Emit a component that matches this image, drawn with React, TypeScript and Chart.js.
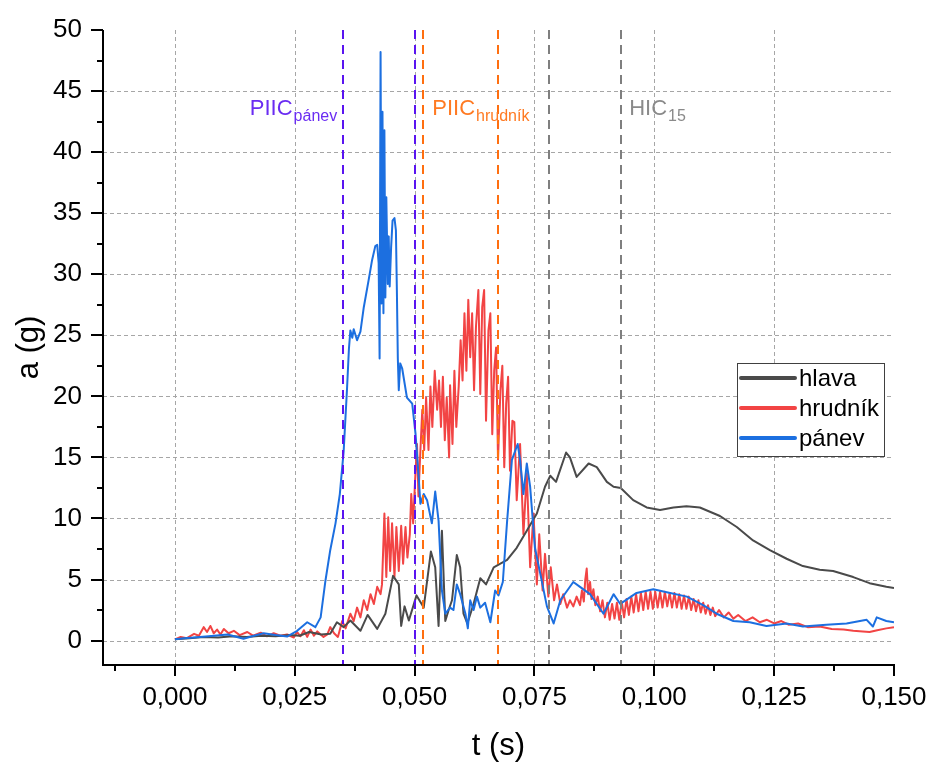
import React, { useEffect, useRef } from 'react';
import { Chart, registerables } from 'chart.js';
Chart.register(...registerables);

// ---------- data (t in s, a in g) ----------
const hlava: [number, number][] = [
  [0.0, 0.1], [0.003, 0.2], [0.006, 0.3], [0.009, 0.25], [0.012, 0.35], [0.015, 0.3], [0.018, 0.4],
  [0.021, 0.35], [0.024, 0.45], [0.026, 0.4], [0.028, 0.7], [0.0305, 0.5], [0.0324, 0.55], [0.0338, 1.5],
  [0.0352, 1.1], [0.0366, 1.64], [0.0387, 0.8], [0.0402, 2.1], [0.0422, 0.96], [0.0439, 2.2], [0.0455, 5.3],
  [0.0467, 4.6], [0.0472, 1.2], [0.0479, 2.8], [0.0488, 1.64], [0.0504, 3.7], [0.0519, 2.7], [0.0534, 7.3],
  [0.0543, 6.0], [0.055, 1.2], [0.0557, 9.0], [0.0564, 1.6], [0.0571, 2.5], [0.0578, 3.3], [0.0588, 7.0],
  [0.0595, 6.0], [0.0602, 2.2], [0.061, 1.4], [0.0623, 3.0], [0.0637, 5.1], [0.0649, 4.6], [0.0665, 6.0],
  [0.0679, 6.3], [0.0693, 6.6], [0.0713, 7.6], [0.0734, 9.0], [0.0755, 10.4], [0.0772, 12.6], [0.0783, 13.5],
  [0.0795, 13.0], [0.0816, 15.4], [0.0824, 15.0], [0.0838, 13.4], [0.0863, 14.5], [0.088, 14.2], [0.0901, 13.0],
  [0.0915, 12.6], [0.093, 12.5], [0.0956, 11.5], [0.0984, 10.9], [0.1012, 10.7], [0.104, 10.9], [0.1067, 11.0],
  [0.1095, 10.9], [0.1137, 10.2], [0.1172, 9.3], [0.1206, 8.2], [0.1241, 7.4], [0.1276, 6.7], [0.131, 6.1],
  [0.1345, 5.8], [0.1373, 5.7], [0.1415, 5.2], [0.1449, 4.7], [0.1484, 4.4], [0.15, 4.3],
];

const hrudnik: [number, number][] = [
  [0.0, 0.1], [0.0012, 0.3], [0.0025, 0.2], [0.004, 0.55], [0.005, 0.4], [0.006, 1.1], [0.0067, 0.7],
  [0.0074, 1.2], [0.0081, 0.6], [0.0088, 0.9], [0.0095, 0.5], [0.0102, 0.95], [0.0112, 0.6], [0.0123, 0.8],
  [0.0135, 0.45], [0.0151, 0.7], [0.0163, 0.4], [0.0179, 0.65], [0.0192, 0.35], [0.0206, 0.6], [0.022, 0.4],
  [0.0234, 0.5], [0.0248, 0.25], [0.0255, 0.7], [0.0262, 0.35], [0.0269, 0.85], [0.0276, 0.3], [0.0283, 0.9],
  [0.029, 0.4], [0.0297, 0.75], [0.031, 0.3], [0.0318, 0.5], [0.0324, 1.1], [0.0332, 0.6], [0.034, 0.3],
  [0.0349, 1.6], [0.0356, 1.0], [0.0366, 2.2], [0.0373, 1.6], [0.038, 2.7], [0.0387, 1.9], [0.0394, 3.3],
  [0.0401, 2.5], [0.0408, 3.8], [0.0415, 3.0], [0.0422, 4.4], [0.0429, 3.8], [0.0432, 4.6], [0.0437, 10.4],
  [0.0441, 5.2], [0.0445, 10.1], [0.0449, 5.7], [0.0453, 9.6], [0.0458, 5.2], [0.0462, 9.3], [0.0467, 5.7],
  [0.0472, 9.4], [0.0476, 6.3], [0.0481, 9.3], [0.0485, 6.8], [0.049, 8.7], [0.0493, 12.0], [0.0497, 9.6],
  [0.0501, 13.1], [0.0505, 16.1], [0.0508, 11.8], [0.0512, 15.5], [0.0516, 18.9], [0.052, 15.6], [0.0524, 19.9],
  [0.0529, 15.6], [0.0533, 20.8], [0.0537, 17.5], [0.0542, 22.1], [0.0547, 18.9], [0.0551, 21.3], [0.0555, 17.5],
  [0.0559, 21.6], [0.0563, 16.4], [0.0567, 19.9], [0.0572, 15.0], [0.0574, 20.9], [0.0579, 16.1], [0.0583, 22.1],
  [0.0587, 17.5], [0.0592, 20.8], [0.0596, 24.6], [0.06, 21.3], [0.0604, 26.8], [0.0608, 22.1], [0.0612, 27.9],
  [0.0616, 23.2], [0.062, 26.8], [0.0624, 20.5], [0.0628, 25.7], [0.0633, 28.7], [0.0637, 20.2], [0.0641, 27.3],
  [0.0645, 28.7], [0.0649, 18.0], [0.0654, 25.4], [0.0658, 26.8], [0.0662, 16.9], [0.0666, 22.1], [0.067, 24.0],
  [0.0674, 14.8], [0.0679, 20.5], [0.0683, 22.5], [0.0687, 14.2], [0.0691, 19.4], [0.0695, 21.6], [0.0699, 13.9],
  [0.0704, 18.0], [0.0708, 17.9], [0.0713, 11.5], [0.072, 16.1], [0.0727, 8.7], [0.0734, 13.7], [0.0741, 6.0],
  [0.0748, 10.4], [0.0755, 4.6], [0.076, 8.7], [0.0767, 4.1], [0.0772, 7.1], [0.0779, 3.6], [0.0784, 6.0],
  [0.0791, 3.3], [0.0797, 4.6], [0.0804, 3.0], [0.081, 3.8], [0.0818, 2.7], [0.0824, 3.3], [0.0831, 2.8],
  [0.0838, 3.6], [0.0845, 2.9], [0.0849, 4.1], [0.0853, 3.2], [0.0856, 5.0], [0.0859, 5.9], [0.0862, 3.8],
  [0.0866, 4.8], [0.0869, 3.4], [0.0873, 4.2], [0.0877, 2.9], [0.0882, 3.6], [0.0887, 2.4], [0.0892, 3.3],
  [0.0897, 1.9], [0.0902, 3.1], [0.0907, 1.7], [0.0912, 3.0], [0.0917, 1.8], [0.0922, 3.1], [0.0927, 1.7],
  [0.0932, 3.2], [0.0937, 1.9], [0.0942, 3.4], [0.0947, 2.1], [0.0952, 3.6], [0.0957, 2.3], [0.0962, 3.8],
  [0.0967, 2.4], [0.0972, 3.9], [0.0977, 2.5], [0.0982, 4.0], [0.0987, 2.6], [0.0992, 4.0], [0.0997, 2.6],
  [0.1002, 4.0], [0.1007, 2.7], [0.1012, 4.0], [0.1017, 2.7], [0.1022, 4.0], [0.1027, 2.8], [0.1032, 3.9],
  [0.1037, 2.7], [0.1042, 3.9], [0.1047, 2.7], [0.1052, 3.8], [0.1057, 2.6], [0.1062, 3.7], [0.1067, 2.6],
  [0.1072, 3.6], [0.1077, 2.5], [0.1082, 3.4], [0.1087, 2.4], [0.1092, 3.3], [0.1097, 2.3], [0.1102, 3.1],
  [0.1107, 2.2], [0.1112, 2.9], [0.1117, 2.1], [0.1122, 2.7], [0.1127, 2.0], [0.1135, 2.5], [0.1145, 1.9],
  [0.1155, 2.3], [0.1165, 1.8], [0.1175, 2.1], [0.119, 1.6], [0.1205, 1.9], [0.122, 1.5], [0.1235, 1.7],
  [0.125, 1.4], [0.1265, 1.6], [0.128, 1.3], [0.13, 1.4], [0.132, 1.1], [0.1345, 1.15], [0.137, 0.95],
  [0.1395, 0.9], [0.1415, 0.8], [0.1435, 0.75], [0.1449, 0.7], [0.1465, 0.85], [0.1484, 1.0], [0.15, 1.1],
];

const panev: [number, number][] = [
  [0.0, 0.1], [0.002, 0.2], [0.004, 0.25], [0.007, 0.35], [0.011, 0.5], [0.0143, 0.15], [0.0165, 0.4],
  [0.0185, 0.6], [0.021, 0.45], [0.0234, 0.33], [0.0255, 0.8], [0.0276, 1.5], [0.0293, 1.1], [0.0304, 1.9],
  [0.0314, 4.9], [0.0324, 7.4], [0.0335, 9.6], [0.0344, 12.0], [0.0352, 15.5], [0.0359, 20.6], [0.0363, 23.9],
  [0.0366, 25.4], [0.037, 24.8], [0.0373, 25.5], [0.038, 24.6], [0.0387, 25.3], [0.0394, 27.3], [0.0404, 29.5],
  [0.0411, 31.1], [0.0418, 32.3], [0.0422, 32.4], [0.0425, 30.9], [0.0427, 23.1], [0.0429, 48.2], [0.0431, 27.6],
  [0.0433, 43.3], [0.0435, 26.8], [0.0437, 41.8], [0.0439, 28.1], [0.0441, 36.3], [0.0444, 29.2], [0.0446, 33.1],
  [0.0448, 29.0], [0.0451, 32.2], [0.0454, 34.4], [0.0458, 34.6], [0.0461, 33.6], [0.0463, 28.7], [0.0465, 23.1],
  [0.0467, 20.5], [0.047, 22.7], [0.0474, 22.3], [0.0484, 19.9], [0.0495, 19.4], [0.0502, 16.9], [0.0509, 13.1],
  [0.0512, 11.2], [0.0519, 12.0], [0.0526, 11.5], [0.0536, 9.6], [0.0543, 12.2], [0.055, 9.8], [0.0557, 4.1],
  [0.0564, 2.2], [0.0574, 2.7], [0.0581, 2.5], [0.0588, 4.6], [0.0595, 3.8], [0.0606, 2.2], [0.0611, 1.0],
  [0.0616, 3.3], [0.0623, 2.5], [0.063, 3.6], [0.0637, 2.7], [0.0647, 3.1], [0.0658, 1.5], [0.0668, 4.1],
  [0.0675, 3.7], [0.0684, 4.8], [0.0693, 9.8], [0.0703, 14.8], [0.0715, 16.1], [0.072, 14.8], [0.0727, 12.0],
  [0.0734, 14.5], [0.0741, 12.6], [0.0751, 7.6], [0.0762, 5.5], [0.0776, 2.8], [0.079, 1.4], [0.0804, 3.3],
  [0.0831, 4.8], [0.0845, 4.4], [0.0866, 3.8], [0.0894, 2.2], [0.0915, 3.8], [0.0929, 3.0], [0.0963, 3.9],
  [0.0998, 4.2], [0.1033, 3.9], [0.1068, 3.6], [0.1102, 2.9], [0.113, 2.2], [0.1165, 1.6], [0.1199, 1.5],
  [0.1234, 1.2], [0.1276, 1.4], [0.131, 1.15], [0.1359, 1.3], [0.1401, 1.4], [0.1443, 1.7], [0.1456, 1.15],
  [0.1464, 1.9], [0.1484, 1.6], [0.15, 1.5],
];

const seriesLabels = ['hlava', 'hrudník', 'pánev'];

// evaluation windows (s)
const piicPanevWindow = [0.0351, 0.05];
const piicHrudnikWindow = [0.0518, 0.0673];
const hic15Window = [0.0781, 0.0931];

// ticks
const xTickValues = [0, 0.025, 0.05, 0.075, 0.1, 0.125, 0.15];
const xTickLabels = ['0,000', '0,025', '0,050', '0,075', '0,100', '0,125', '0,150'];
const xMinorTicks = [-0.0125, 0.0125, 0.0375, 0.0625, 0.0875, 0.1125, 0.1375];
const xGridValues = [0, 0.025, 0.05, 0.075, 0.1, 0.125];
const yTickValues = [0, 5, 10, 15, 20, 25, 30, 35, 40, 45, 50];
const yMinorTicks = [2.5, 7.5, 12.5, 17.5, 22.5, 27.5, 32.5, 37.5, 42.5, 47.5];
const yGridValues = [0, 5, 10, 15, 20, 25, 30, 35, 40, 45];

const FONT = "'Liberation Sans', Arial, sans-serif";
const COLORS = ['#4a4a4a', '#f24444', '#1c6fe0'];

const zeroPad = (s: any) => {
  s.paddingLeft = 0; s.paddingRight = 0; s.paddingTop = 0; s.paddingBottom = 0;
};

const decorPlugin = {
  id: 'decor',
  beforeDatasetsDraw(chart: any) {
    const { ctx, chartArea: a, scales } = chart;
    const xs = scales.x, ys = scales.y;
    ctx.save();
    ctx.strokeStyle = '#a6a6a6';
    ctx.lineWidth = 1;
    ctx.setLineDash([4, 3]);
    for (const v of yGridValues) {
      const py = Math.round(ys.getPixelForValue(v)) + 0.5;
      ctx.beginPath(); ctx.moveTo(a.left, py); ctx.lineTo(a.right, py); ctx.stroke();
    }
    for (const v of xGridValues) {
      const px = Math.round(xs.getPixelForValue(v)) + 0.5;
      ctx.beginPath(); ctx.moveTo(px, a.top); ctx.lineTo(px, a.bottom); ctx.stroke();
    }
    ctx.restore();
  },
  afterDatasetsDraw(chart: any) {
    const { ctx, chartArea: a, scales } = chart;
    const xs = scales.x;
    const wins: [number[], string][] = [
      [piicPanevWindow, '#5a14f0'],
      [piicHrudnikWindow, '#ff6f10'],
      [hic15Window, '#7f7f7f'],
    ];
    ctx.save();
    ctx.lineWidth = 2;
    ctx.setLineDash([9, 6]);
    for (const [w, c] of wins) {
      for (const v of w) {
        const px = Math.round(xs.getPixelForValue(v));
        ctx.strokeStyle = c;
        ctx.beginPath(); ctx.moveTo(px, a.top); ctx.lineTo(px, a.bottom); ctx.stroke();
      }
    }
    ctx.setLineDash([]);
    // labels
    const base = a.top + 85;
    const drawLabel = (main: string, sub: string, color: string, x: number, alignRight: boolean) => {
      ctx.font = `22px ${FONT}`;
      const wm = ctx.measureText(main).width;
      ctx.font = `16px ${FONT}`;
      const ws = ctx.measureText(sub).width;
      const x0 = alignRight ? x - wm - ws : x;
      ctx.fillStyle = color;
      ctx.textBaseline = 'alphabetic';
      ctx.textAlign = 'left';
      ctx.font = `22px ${FONT}`;
      ctx.fillText(main, x0, base);
      ctx.font = `16px ${FONT}`;
      ctx.fillText(sub, x0 + wm + 1, base + 6);
    };
    drawLabel('PIIC', 'pánev', '#6a2cf2', xs.getPixelForValue(piicPanevWindow[0]) - 7, true);
    drawLabel('PIIC', 'hrudník', '#ff7a22', xs.getPixelForValue(piicHrudnikWindow[0]) + 9, false);
    drawLabel('HIC', '15', '#8a8a8a', xs.getPixelForValue(hic15Window[1]) + 8, false);
    ctx.restore();
  },
  afterDraw(chart: any) {
    const { ctx, chartArea: a, scales } = chart;
    const xs = scales.x, ys = scales.y;
    ctx.save();
    ctx.strokeStyle = '#000';
    ctx.lineWidth = 2;
    // axis lines
    ctx.beginPath();
    ctx.moveTo(a.left, a.top); ctx.lineTo(a.left, a.bottom + 1);
    ctx.moveTo(a.left - 1, a.bottom); ctx.lineTo(a.right + 1, a.bottom);
    ctx.stroke();
    // ticks
    ctx.beginPath();
    for (const v of yTickValues) {
      const py = Math.round(ys.getPixelForValue(v));
      ctx.moveTo(a.left - 12, py); ctx.lineTo(a.left, py);
    }
    for (const v of yMinorTicks) {
      const py = Math.round(ys.getPixelForValue(v));
      ctx.moveTo(a.left - 6, py); ctx.lineTo(a.left, py);
    }
    for (const v of xTickValues) {
      const px = Math.round(xs.getPixelForValue(v));
      ctx.moveTo(px, a.bottom); ctx.lineTo(px, a.bottom + 11);
    }
    for (const v of xMinorTicks) {
      const px = Math.round(xs.getPixelForValue(v));
      ctx.moveTo(px, a.bottom); ctx.lineTo(px, a.bottom + 6);
    }
    ctx.stroke();
    // axis titles
    ctx.fillStyle = '#000';
    ctx.font = `31px ${FONT}`;
    ctx.textAlign = 'center';
    ctx.textBaseline = 'middle';
    ctx.fillText('t (s)', (a.left + a.right) / 2, 746);
    ctx.save();
    ctx.translate(29, (a.top + a.bottom) / 2);
    ctx.rotate(-Math.PI / 2);
    ctx.fillText('a (g)', 0, 0);
    ctx.restore();
    // legend
    const bx = a.right - 157, by = a.top + 333, bw = 147, bh = 93;
    ctx.fillStyle = '#fff';
    ctx.fillRect(bx, by, bw, bh);
    ctx.lineWidth = 1;
    ctx.strokeStyle = '#404040';
    ctx.strokeRect(bx + 0.5, by + 0.5, bw, bh);
    ctx.font = `24px ${FONT}`;
    ctx.textAlign = 'left';
    ctx.textBaseline = 'middle';
    chart.data.datasets.forEach((ds: any, i: number) => {
      const ry = by + 15 + i * 30;
      ctx.strokeStyle = ds.borderColor;
      ctx.lineWidth = 4;
      ctx.lineCap = 'round';
      ctx.beginPath(); ctx.moveTo(bx + 4, ry); ctx.lineTo(bx + 58, ry); ctx.stroke();
      ctx.fillStyle = '#000';
      ctx.fillText(ds.label, bx + 62, ry + 1);
    });
    ctx.restore();
  },
};

export default function App() {
  const ref = useRef<HTMLCanvasElement>(null);
  useEffect(() => {
    const toPts = (arr: [number, number][]) => arr.map(([t, v]) => ({ x: t, y: v }));
    const chart = new Chart(ref.current!, {
      type: 'line',
      data: {
        datasets: [
          { label: seriesLabels[0], data: toPts(hlava), borderColor: COLORS[0], order: 2 },
          { label: seriesLabels[1], data: toPts(hrudnik), borderColor: COLORS[1], order: 3 },
          { label: seriesLabels[2], data: toPts(panev), borderColor: COLORS[2], order: 1 },
        ].map((d) => ({ ...d, borderWidth: 2, pointRadius: 0, tension: 0, fill: false, borderJoinStyle: 'round' as const })),
      },
      options: {
        animation: false,
        responsive: false,
        devicePixelRatio: 1,
        layout: { padding: { left: 0, top: 30, right: 33, bottom: 0 } },
        plugins: { legend: { display: false }, tooltip: { enabled: false } },
        scales: {
          x: {
            type: 'linear',
            min: -0.015,
            max: 0.15,
            afterFit: (s: any) => { s.height = 98; zeroPad(s); },
            afterBuildTicks: (s: any) => { s.ticks = xTickValues.map((v) => ({ value: v })); },
            grid: { display: false, drawTicks: false },
            border: { display: false },
            ticks: {
              autoSkip: false,
              maxRotation: 0,
              padding: 17,
              color: '#000',
              font: { family: FONT, size: 26 },
              callback: (_v: any, i: number) => xTickLabels[i],
            },
          },
          y: {
            type: 'linear',
            min: -2,
            max: 50,
            afterFit: (s: any) => { s.width = 103; zeroPad(s); },
            afterBuildTicks: (s: any) => { s.ticks = yTickValues.map((v) => ({ value: v })); },
            grid: { display: false, drawTicks: false },
            border: { display: false },
            ticks: {
              autoSkip: false,
              padding: 21,
              color: '#000',
              font: { family: FONT, size: 26 },
              callback: (v: any) => String(v),
            },
          },
        },
      },
      plugins: [decorPlugin],
    } as any);
    return () => chart.destroy();
  }, []);
  return (
    <div style={{ position: 'absolute', left: 0, top: 0, width: 927, height: 763, background: '#fff' }}>
      <canvas ref={ref} width={927} height={763} style={{ display: 'block', width: 927, height: 763 }} />
    </div>
  );
}
